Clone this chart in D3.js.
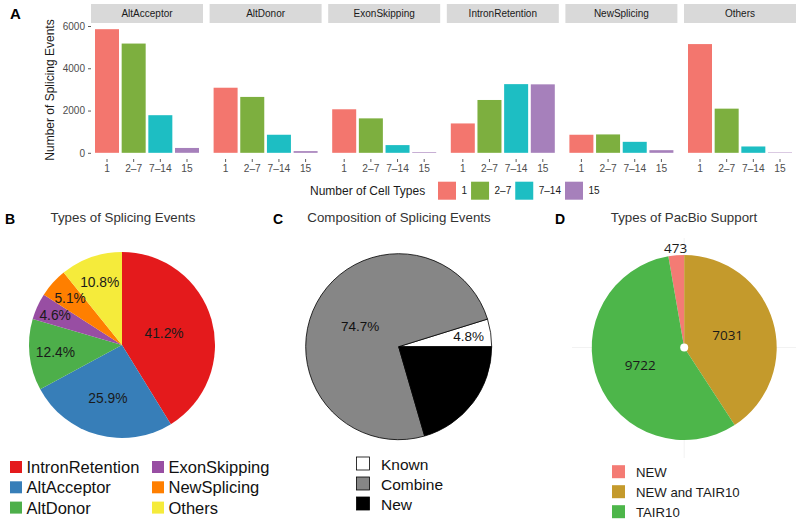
<!DOCTYPE html>
<html><head><meta charset="utf-8">
<script src="https://cdn.jsdelivr.net/npm/d3@7"></script>
<style>
body{margin:0;background:#fff;}
svg{display:block;font-family:"Liberation Sans",Arial,Helvetica,sans-serif;}
</style>
</head><body>
<svg id="c" width="800" height="522"></svg>
<script>
// ---------- DATA ----------
const facets = ["AltAcceptor","AltDonor","ExonSkipping","IntronRetention","NewSplicing","Others"];
const cellTypes = ["1","2–7","7–14","15"];
const altAcceptor     = [5850,5170,1780,230];
const altDonor        = [3080,2645,855,80];
const exonSkipping    = [2060,1630,365,30];
const intronRetention = [1390,2500,3250,3240];
const newSplicing     = [855,870,520,125];
const others          = [5145,2090,300,20];
const yTicks = [0,2000,4000,6000];

const typeNames    = ["IntronRetention","AltAcceptor","AltDonor","ExonSkipping","NewSplicing","Others"];
const typePercents = [41.2,25.9,12.4,4.6,5.1,10.8];

const compNames    = ["Known","Combine","New"];
const compPercents = [4.8,74.7,20.5];

const supportNames  = ["NEW","NEW and TAIR10","TAIR10"];
const supportCounts = [473,7031,9722];

// ---------- STYLE ----------
const colA = ["#F3766E","#7DAF3F","#1DBEC3","#A680BB"];
const colB = ["#E41A1C","#377EB8","#4DAF4A","#984EA3","#FF7F00","#F5EB3B"];
const colC = ["#FFFFFF","#868686","#000000"];
const colD = ["#F47B74","#C49A2C","#4DB64A"];
const labRB = [0.47,0.59,0.72,0.79,0.75,0.72];
const labRC = [0.76,0.47,0.5];
const labRD = [1.085,0.49,0.51];

const svg = d3.select("#c");

// ---------- PANEL A ----------
const seriesA = [altAcceptor, altDonor, exonSkipping, intronRetention, newSplicing, others];
const fx = d3.scaleBand().domain(facets).range([91,796]).paddingInner(6.6/118.6).paddingOuter(0);
const yMax = d3.max(seriesA.flat());
const y = d3.scaleLinear().domain([-0.05*yMax, yMax*1.05]).range([159,23]);
const xb = d3.scaleBand().domain(cellTypes).range([0, fx.bandwidth()]).paddingInner(0.1).paddingOuter(0.15);

svg.append("text").attr("x",10).attr("y",19).attr("font-size",15).attr("font-weight","bold").text("A");

// y axis
const gy = svg.append("g").attr("transform","translate(91,0)")
  .call(d3.axisLeft(y).tickValues(yTicks).tickFormat(d3.format("d")).tickSize(3).tickPadding(3));
gy.select(".domain").remove();
gy.selectAll(".tick line").attr("stroke","#333").attr("stroke-width",0.8);
gy.selectAll(".tick text").attr("fill","#4d4d4d").attr("font-size",10).attr("font-family","Liberation Sans, Arial, sans-serif");

svg.append("text").attr("transform","translate(54,90) rotate(-90)").attr("text-anchor","middle")
  .attr("font-size",12).attr("fill","#1a1a1a").text("Number of Splicing Events");

facets.forEach((f,i)=>{
  const g = svg.append("g").attr("transform",`translate(${fx(f)},0)`);
  g.append("rect").attr("x",0).attr("y",4).attr("width",fx.bandwidth()).attr("height",19).attr("fill","#D9D9D9");
  g.append("text").attr("x",fx.bandwidth()/2).attr("y",17.3).attr("text-anchor","middle")
    .attr("font-size",10).attr("fill","#1a1a1a").text(f);
  g.selectAll("rect.bar").data(seriesA[i]).join("rect").attr("class","bar")
    .attr("x",(d,j)=>xb(cellTypes[j])).attr("width",xb.bandwidth())
    .attr("y",d=>y(d)).attr("height",d=>y(0)-y(d))
    .attr("fill",(d,j)=>colA[j]);
  const gx = g.append("g").attr("transform","translate(0,159)")
    .call(d3.axisBottom(xb).tickSize(3).tickPadding(2.5));
  gx.select(".domain").remove();
  gx.selectAll(".tick line").attr("stroke","#333").attr("stroke-width",0.8);
  gx.selectAll(".tick text").attr("fill","#4d4d4d").attr("font-size",10.2).attr("font-family","Liberation Sans, Arial, sans-serif");
});

// legend A
const legA = svg.append("g");
legA.append("text").attr("x",310).attr("y",194.5).attr("font-size",12).attr("fill","#1a1a1a").text("Number of Cell Types");
let lx = 438;
cellTypes.forEach((c,j)=>{
  legA.append("rect").attr("x",lx).attr("y",181.7).attr("width",18).attr("height",18).attr("fill",colA[j]);
  const t = legA.append("text").attr("x",lx+23.5).attr("y",194).attr("font-size",10).attr("fill","#1a1a1a").text(c);
  lx = lx + 23.5 + t.node().getComputedTextLength() + 4;
});

// ---------- helpers ----------
function labelPos(a, r, f){
  const m = (a.startAngle + a.endAngle)/2;
  return [Math.sin(m)*r*f, -Math.cos(m)*r*f];
}

// ---------- PANEL B ----------
svg.append("text").attr("x",5).attr("y",224).attr("font-size",14).attr("font-weight","bold").text("B");
svg.append("text").attr("x",123).attr("y",222).attr("text-anchor","middle").attr("font-size",13.3).attr("fill","#333").text("Types of Splicing Events");
{
  const cx=122, cy=345, r=93;
  const arcs = d3.pie().sort(null).value(d=>d)(typePercents);
  const arc = d3.arc().innerRadius(0).outerRadius(r);
  const g = svg.append("g").attr("transform",`translate(${cx},${cy})`);
  g.selectAll("path").data(arcs).join("path").attr("d",arc).attr("fill",(d,i)=>colB[i]);
  g.selectAll("text").data(arcs).join("text")
    .attr("x",(d,i)=>labelPos(d,r,labRB[i])[0]).attr("y",(d,i)=>labelPos(d,r,labRB[i])[1]+5)
    .attr("text-anchor","middle").attr("font-size",13.8).attr("fill","#1a1a1a")
    .text(d=>d.data.toFixed(1)+"%");
  const lg = svg.append("g");
  typeNames.forEach((n,i)=>{
    const col = Math.floor(i/3), row = i%3;
    const x0 = col===0 ? 10 : 152, yc = 467 + row*20.3;
    lg.append("rect").attr("x",x0).attr("y",yc-6).attr("width",12).attr("height",12).attr("fill",colB[i]);
    lg.append("text").attr("x",x0+16.5).attr("y",yc+6).attr("font-size",16.5).attr("fill","#111").text(n);
  });
}

// ---------- PANEL C ----------
svg.append("text").attr("x",273).attr("y",224).attr("font-size",14).attr("font-weight","bold").text("C");
svg.append("text").attr("x",399).attr("y",222).attr("text-anchor","middle").attr("font-size",13.3).attr("fill","#333").text("Composition of Splicing Events");
{
  const cx=398.7, cy=346.7, r=93;
  const arcs = d3.pie().sort(null).value(d=>d).startAngle(Math.PI/2).endAngle(Math.PI/2 - 2*Math.PI)(compPercents);
  const arc = d3.arc().innerRadius(0).outerRadius(r);
  const g = svg.append("g").attr("transform",`translate(${cx},${cy})`);
  g.selectAll("path").data(arcs).join("path").attr("d",arc).attr("fill",(d,i)=>colC[i])
    .attr("stroke","#000").attr("stroke-width",0.8);
  g.selectAll("text").data(arcs.filter((d,i)=>colC[i]!=="#000000")).join("text")
    .attr("x",d=>labelPos(d,r,labRC[d.index])[0]).attr("y",d=>labelPos(d,r,labRC[d.index])[1]+5)
    .attr("text-anchor","middle").attr("font-size",13.5).attr("fill","#111")
    .text(d=>d.data.toFixed(1)+"%");
  const lg = svg.append("g");
  compNames.forEach((n,i)=>{
    const yc = 463.5 + i*20;
    lg.append("rect").attr("x",356.5).attr("y",yc-6.5).attr("width",13).attr("height",13)
      .attr("fill",colC[i]).attr("stroke","#000").attr("stroke-width",0.8);
    lg.append("text").attr("x",381).attr("y",yc+6).attr("font-size",15.5).attr("fill","#111").text(n);
  });
}

// ---------- PANEL D ----------
svg.append("text").attr("x",555).attr("y",224).attr("font-size",14).attr("font-weight","bold").text("D");
svg.append("text").attr("x",684).attr("y",222).attr("text-anchor","middle").attr("font-size",13.3).attr("fill","#333").text("Types of PacBio Support");
{
  const cx=684.2, cy=347.5, r=92.5;
  const total = d3.sum(supportCounts);
  const s0 = -2*Math.PI*supportCounts[0]/total;
  // faint polar grid
  svg.append("line").attr("x1",572).attr("x2",796).attr("y1",cy).attr("y2",cy).attr("stroke","#F2F2F2").attr("stroke-width",1);
  svg.append("line").attr("x1",cx).attr("x2",cx).attr("y1",238).attr("y2",458).attr("stroke","#F2F2F2").attr("stroke-width",1);
  const arcs = d3.pie().sort(null).value(d=>d).startAngle(s0).endAngle(s0+2*Math.PI)(supportCounts);
  const arc = d3.arc().innerRadius(0).outerRadius(r);
  const g = svg.append("g").attr("transform",`translate(${cx},${cy})`);
  g.selectAll("path").data(arcs).join("path").attr("d",arc).attr("fill",(d,i)=>colD[i]);
  g.append("circle").attr("r",4).attr("fill","#fff");
  g.selectAll("text").data(arcs).join("text")
    .attr("x",(d,i)=>labelPos(d,r,labRD[i])[0]).attr("y",(d,i)=>labelPos(d,r,labRD[i])[1]+5)
    .attr("text-anchor","middle").attr("font-size",13.5).attr("font-family","Open Sans, sans-serif").attr("fill","#1a1a1a")
    .text(d=>d.data);
  const lg = svg.append("g");
  supportNames.forEach((n,i)=>{
    const yc = 471.7 + i*20;
    lg.append("rect").attr("x",612).attr("y",yc-6.5).attr("width",13).attr("height",13).attr("fill",colD[i]);
    lg.append("text").attr("x",636).attr("y",yc+5).attr("font-size",13.2).attr("fill","#1a1a1a").text(n);
  });
}
</script>
</body></html>
